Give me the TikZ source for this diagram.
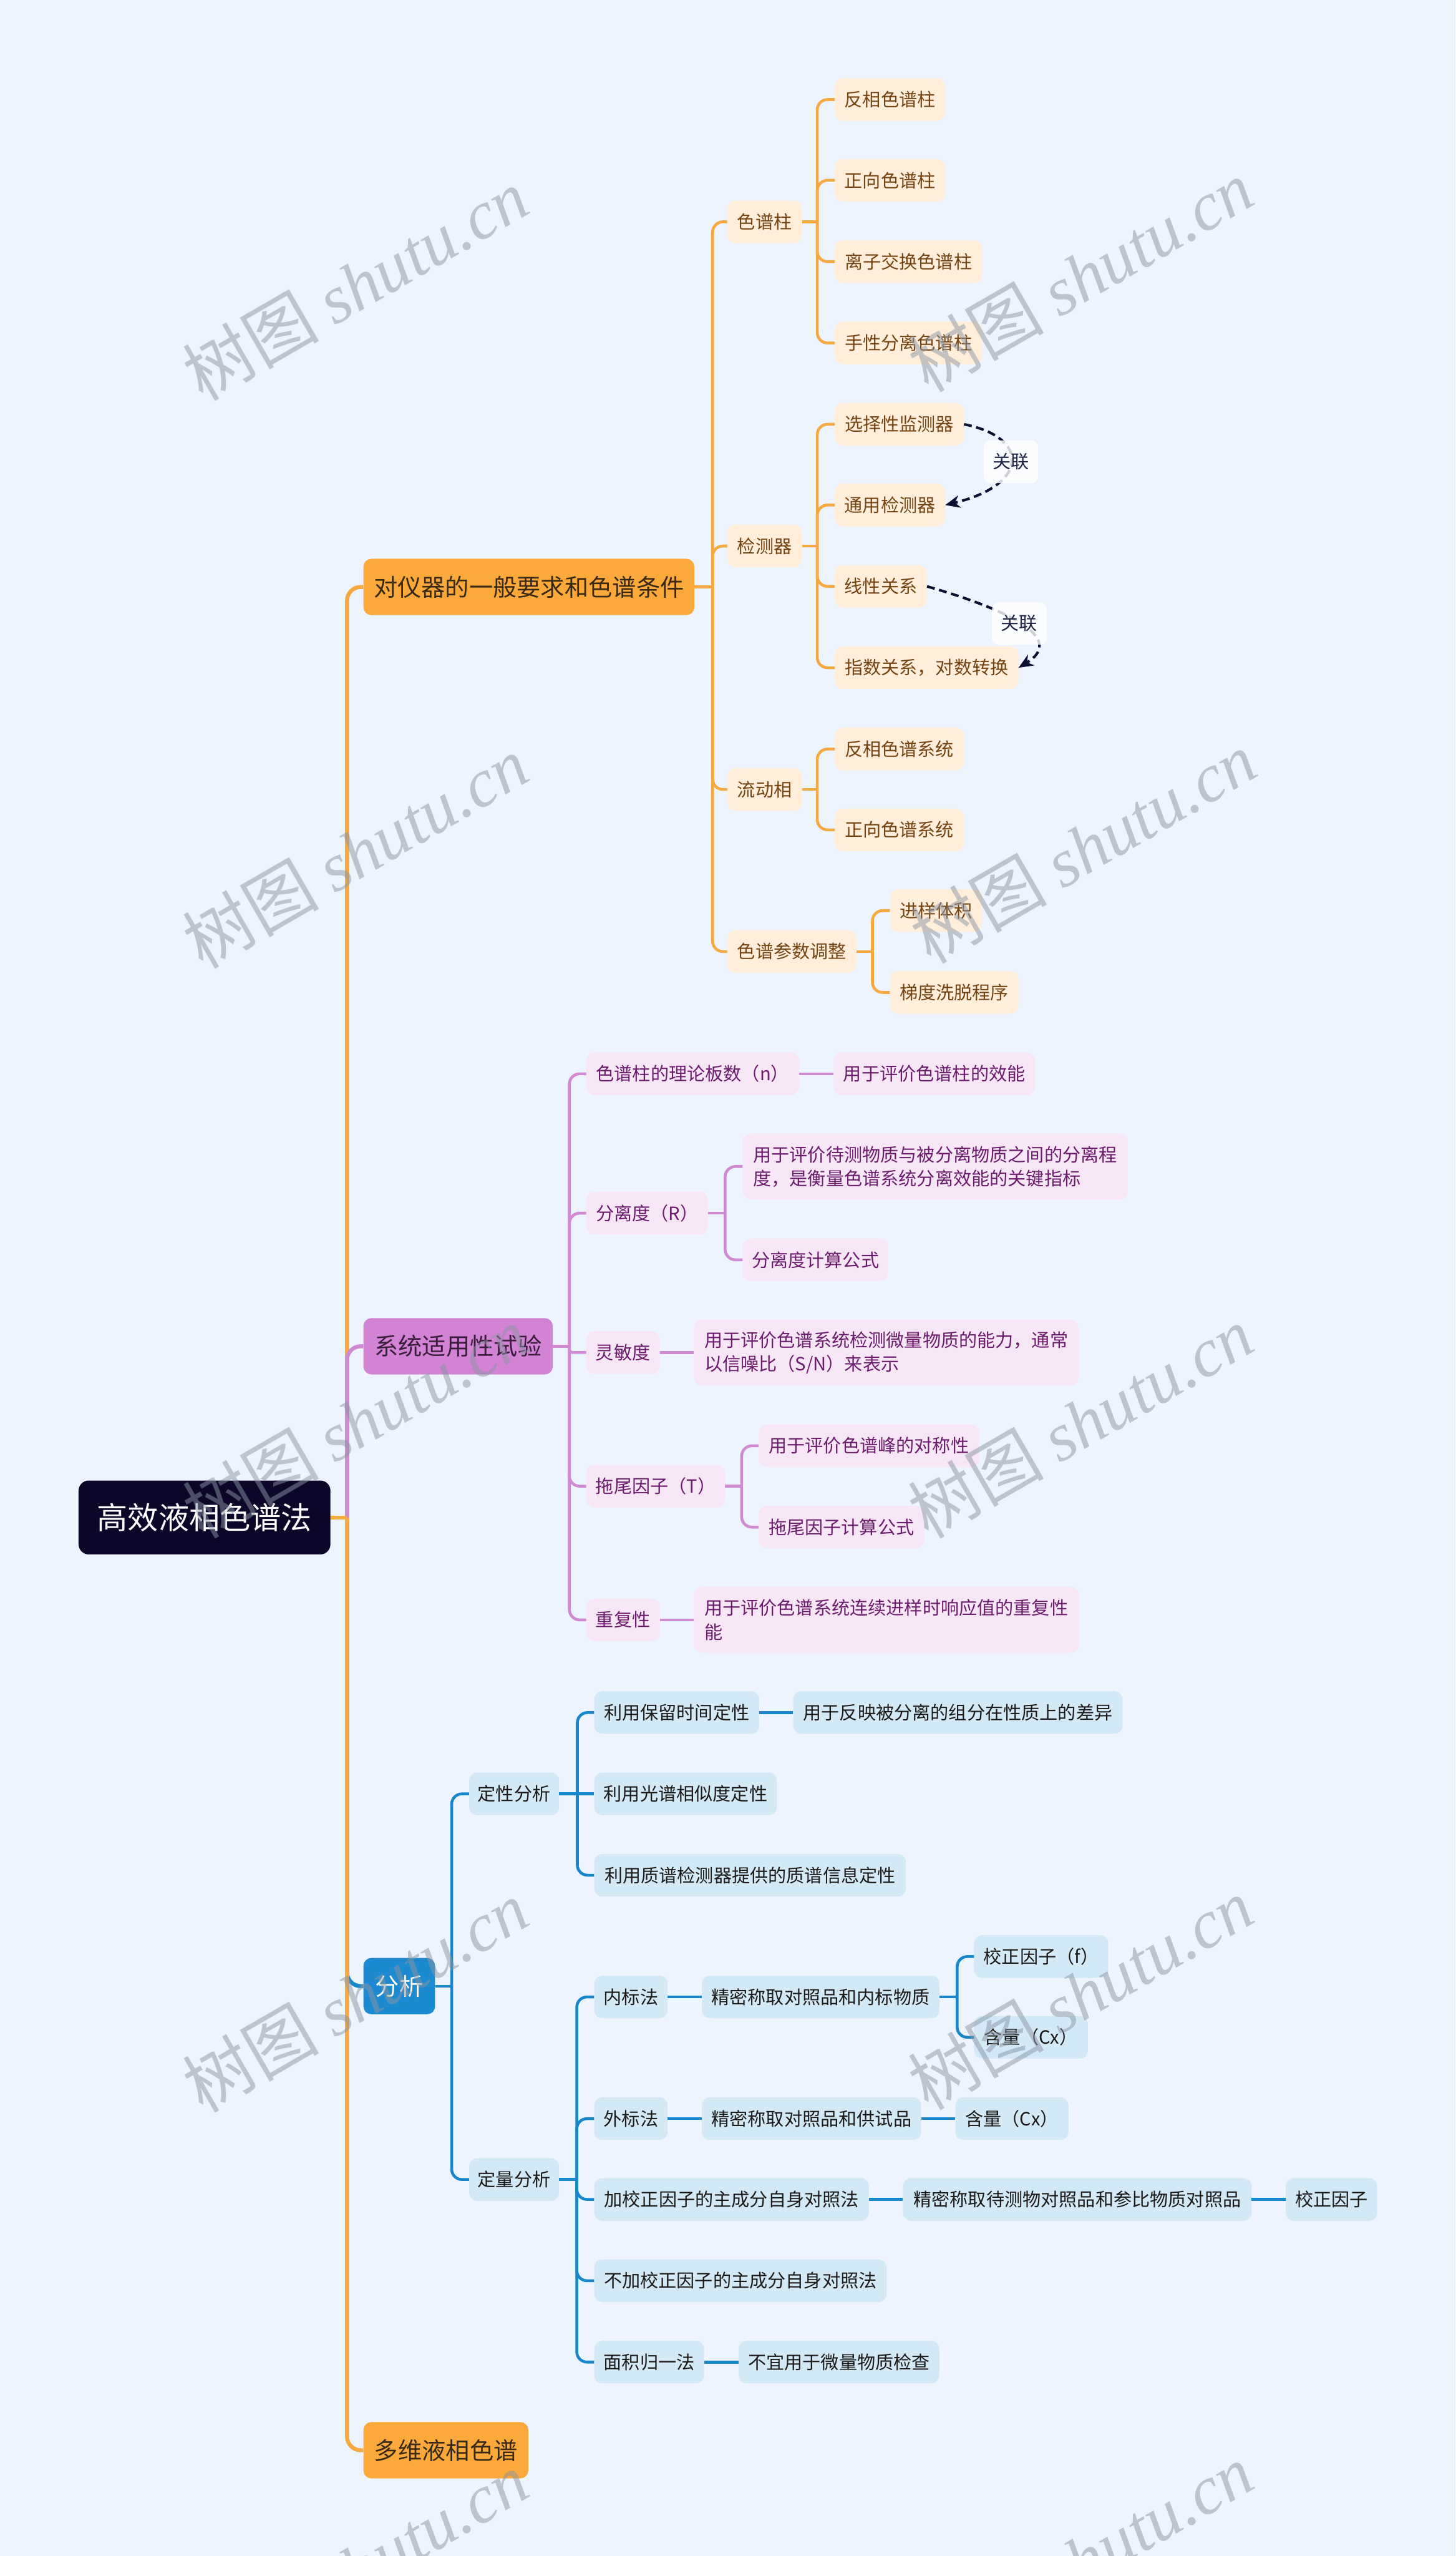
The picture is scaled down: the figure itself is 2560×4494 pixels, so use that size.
\documentclass[tikz,border=0pt]{standalone}
\usepackage{fontspec}
\setmainfont{Noto Sans CJK SC}
\newfontfamily\wmcjk{Noto Sans CJK SC}
\newfontfamily\wmlat{Liberation Serif}
\usetikzlibrary{arrows.meta,calc}
\definecolor{bgc}{HTML}{EEF4FE}
\definecolor{rootc}{HTML}{0C0629}
\definecolor{ofill}{HTML}{FAA93A}
\definecolor{oline}{HTML}{F5A940}
\definecolor{osub}{HTML}{FFEEDA}
\definecolor{otext}{HTML}{744512}
\definecolor{otop}{HTML}{3A2A14}
\definecolor{pfill}{HTML}{D283D3}
\definecolor{pline}{HTML}{D08AD2}
\definecolor{psub}{HTML}{F7E6F6}
\definecolor{ptext}{HTML}{6C1C6C}
\definecolor{ptop}{HTML}{3A1F3C}
\definecolor{bfill}{HTML}{1B8AD0}
\definecolor{bline}{HTML}{1787CB}
\definecolor{bsub}{HTML}{D3E9F6}
\definecolor{btext}{HTML}{1A1A1A}
\definecolor{relc}{HTML}{0E0E30}
\definecolor{reltext}{HTML}{1F2744}
\definecolor{wmc}{HTML}{8C95A3}
\tikzset{
  nbox/.style={anchor=west, rounded corners=14pt, inner xsep=0pt, inner ysep=0pt,
    minimum height=75pt, align=center, font=\fontsize{32}{42}\selectfont},
  lvlone/.style={nbox, minimum height=99pt, font=\fontsize{42}{50}\selectfont},
  rootbox/.style={nbox, fill=rootc, text=white, rounded corners=18pt,
    minimum height=130pt, font=\fontsize{54}{60}\selectfont},
  otopbox/.style={lvlone, fill=ofill, text=otop},
  osubbox/.style={nbox, fill=osub, text=otext},
  ptopbox/.style={lvlone, fill=pfill, text=ptop},
  psubbox/.style={nbox, fill=psub, text=ptext},
  btopbox/.style={lvlone, fill=bfill, text=white},
  bsubbox/.style={nbox, fill=bsub, text=btext},
  twoline/.style={minimum height=116pt, align=left},
  trunkline/.style={line width=7pt, rounded corners=24pt},
  ol/.style={oline, line width=5pt},
  pl/.style={pline, line width=5pt},
  bl/.style={bline, line width=5pt},
  relline/.style={relc, line width=4.5pt, dash pattern=on 14pt off 8pt,
    -{Stealth[length=26pt,width=22pt]}},
  relbox/.style={fill=white, fill opacity=0.8, text opacity=1, text=reltext,
    rounded corners=12pt, minimum width=96pt, minimum height=75pt,
    inner sep=0pt, font=\fontsize{32}{40}\selectfont},
  wmark/.style={rotate=30, text=wmc, opacity=0.5, inner sep=0pt},
}
\newcommand\fan[4]{%
  \coordinate (#2j) at ($(#2.east)+(#3,0)$);
  \draw[#1] (#2.east) -- (#2j);
  \foreach \c in {#4}{\draw[#1, rounded corners=18pt] (#2j) |- (\c.west);}%
}
\begin{document}
\begin{tikzpicture}[x=1pt,y=-1pt]
\useasboundingbox (0,0) rectangle (2560,4494);
\fill[bgc] (0,0) rectangle (2560,4494);

% root
\node[rootbox, minimum width=443pt] (root) at (138,2668) {高效液相色谱法};

% orange branch
\node[otopbox, minimum width=582pt] (A) at (639,1032) {对仪器的一般要求和色谱条件};
\node[osubbox, minimum width=131pt] (A1) at (1279,390) {色谱柱};
\node[osubbox, minimum width=194pt] (A11) at (1468,175) {反相色谱柱};
\node[osubbox, minimum width=194pt] (A12) at (1468,317) {正向色谱柱};
\node[osubbox, minimum width=259pt] (A13) at (1468,460) {离子交换色谱柱};
\node[osubbox, minimum width=259pt] (A14) at (1468,603) {手性分离色谱柱};
\node[osubbox, minimum width=131pt] (A2) at (1279,960) {检测器};
\node[osubbox, minimum width=227pt] (A21) at (1468,746) {选择性监测器};
\node[osubbox, minimum width=194pt] (A22) at (1468,888) {通用检测器};
\node[osubbox, minimum width=162pt] (A23) at (1468,1031) {线性关系};
\node[osubbox, minimum width=323pt] (A24) at (1468,1174) {指数关系，对数转换};
\node[osubbox, minimum width=131pt] (A3) at (1279,1388) {流动相};
\node[osubbox, minimum width=227pt] (A31) at (1468,1317) {反相色谱系统};
\node[osubbox, minimum width=227pt] (A32) at (1468,1459) {正向色谱系统};
\node[osubbox, minimum width=227pt] (A4) at (1279,1673) {色谱参数调整};
\node[osubbox, minimum width=162pt] (A41) at (1565,1601) {进样体积};
\node[osubbox, minimum width=226pt] (A42) at (1565,1745) {梯度洗脱程序};

% purple branch
\node[ptopbox, minimum width=333pt] (B) at (639,2367) {系统适用性试验};
\node[psubbox, minimum width=374pt] (B1) at (1031,1888) {色谱柱的理论板数（n）};
\node[psubbox, minimum width=354pt] (B11) at (1466,1888) {用于评价色谱柱的效能};
\node[psubbox, minimum width=214pt] (B2) at (1031,2133) {分离度（R）};
\node[psubbox, twoline, minimum width=677pt] (B21) at (1306,2051) {用于评价待测物质与被分离物质之间的分离程\\度，是衡量色谱系统分离效能的关键指标};
\node[psubbox, minimum width=256pt] (B22) at (1306,2215) {分离度计算公式};
\node[psubbox, minimum width=129pt] (B3) at (1031,2378) {灵敏度};
\node[psubbox, twoline, minimum width=677pt] (B31) at (1220,2378) {用于评价色谱系统检测微量物质的能力，通常\\以信噪比（S/N）来表示};
\node[psubbox, minimum width=244pt] (B4) at (1031,2613) {拖尾因子（T）};
\node[psubbox, minimum width=388pt] (B41) at (1334,2542) {用于评价色谱峰的对称性};
\node[psubbox, minimum width=291pt] (B42) at (1334,2685) {拖尾因子计算公式};
\node[psubbox, minimum width=129pt] (B5) at (1031,2848) {重复性};
\node[psubbox, twoline, minimum width=677pt] (B51) at (1220,2848) {用于评价色谱系统连续进样时响应值的重复性\\能};

% blue branch
\node[btopbox, minimum width=126pt] (C) at (639,3492) {分析};
\node[bsubbox, minimum width=158pt] (C1) at (825,3154) {定性分析};
\node[bsubbox, minimum width=290pt] (C11) at (1045,3011) {利用保留时间定性};
\node[bsubbox, minimum width=579pt] (C111) at (1395,3011) {用于反映被分离的组分在性质上的差异};
\node[bsubbox, minimum width=321pt] (C12) at (1045,3154) {利用光谱相似度定性};
\node[bsubbox, minimum width=548pt] (C13) at (1045,3297) {利用质谱检测器提供的质谱信息定性};
\node[bsubbox, minimum width=158pt] (C2) at (825,3832) {定量分析};
\node[bsubbox, minimum width=129pt] (C21) at (1045,3511) {内标法};
\node[bsubbox, minimum width=418pt] (C211) at (1234,3511) {精密称取对照品和内标物质};
\node[bsubbox, minimum width=236pt] (C2111) at (1713,3440) {校正因子（f）};
\node[bsubbox, minimum width=200pt] (C2112) at (1713,3582) {含量（Cx）};
\node[bsubbox, minimum width=129pt] (C22) at (1045,3725) {外标法};
\node[bsubbox, minimum width=386pt] (C221) at (1234,3725) {精密称取对照品和供试品};
\node[bsubbox, minimum width=199pt] (C2211) at (1680,3725) {含量（Cx）};
\node[bsubbox, minimum width=483pt] (C23) at (1045,3867) {加校正因子的主成分自身对照法};
\node[bsubbox, minimum width=613pt] (C231) at (1588,3867) {精密称取待测物对照品和参比物质对照品};
\node[bsubbox, minimum width=161pt] (C2311) at (2261,3867) {校正因子};
\node[bsubbox, minimum width=514pt] (C24) at (1045,4010) {不加校正因子的主成分自身对照法};
\node[bsubbox, minimum width=193pt] (C25) at (1045,4153) {面积归一法};
\node[bsubbox, minimum width=353pt] (C251) at (1299,4153) {不宜用于微量物质检查};

% last orange
\node[otopbox, minimum width=290pt] (D) at (639,4308) {多维液相色谱};

% ---- connectors ----
\coordinate (Rj) at ($(root.east)+(29,0)$);
\draw[oline, trunkline] (Rj) |- (A.west);
\draw[pline, trunkline] (Rj) |- (B.west);
\draw[bline, trunkline] (Rj) |- (C.west);
\draw[oline, trunkline] (Rj) |- (D.west);
\draw[oline, line width=7pt] (root.east) -- (Rj);

\fan{ol}{A}{32}{A1,A2,A3,A4}
\fan{ol}{A1}{27}{A11,A12,A13,A14}
\fan{ol}{A2}{27}{A21,A22,A23,A24}
\fan{ol}{A3}{27}{A31,A32}
\fan{ol}{A4}{28}{A41,A42}

\fan{pl}{B}{29}{B1,B2,B4,B5}
\draw[pl, rounded corners=5pt] (Bj) |- (B3.west);
\draw[pl] (B1.east) -- (B11.west);
\fan{pl}{B2}{30}{B21,B22}
\draw[pl] (B3.east) -- (B31.west);
\fan{pl}{B4}{29}{B41,B42}
\draw[pl] (B5.east) -- (B51.west);

\fan{bl}{C}{29}{C1,C2}
\fan{bl}{C1}{32}{C11,C13}
\draw[bl] (C1j) -- (C12.west);
\draw[bl] (C11.east) -- (C111.west);
\fan{bl}{C2}{31}{C21,C22,C23,C24,C25}
\draw[bl] (C21.east) -- (C211.west);
\fan{bl}{C211}{31}{C2111,C2112}
\draw[bl] (C22.east) -- (C221.west);
\draw[bl] (C221.east) -- (C2211.west);
\draw[bl] (C23.east) -- (C231.west);
\draw[bl] (C231.east) -- (C2311.west);
\draw[bl] (C25.east) -- (C251.west);

% relation arrows
\draw[relline] (A21.east) .. controls (1810,768) and (1812,852) .. (A22.east)
  node[relbox, pos=0.5] (R1) {关联};
\draw[relline] (A23.east) .. controls (1760,1068) and (1880,1120) .. (A24.east)
  node[relbox, pos=0.5] (R2) {关联};

% watermarks
\foreach \x/\y [count=\i] in {625/500,1900/485,625/1498,1905/1490,625/2500,1900/2500,625/3510,1900/3505,625/4515,1900/4500}
  \node[wmark] (wm\i) at (\x,\y) {\fontsize{120}{120}\selectfont{\wmcjk 树图} {\wmlat\itshape shutu.cn}};
\end{tikzpicture}
\end{document}
